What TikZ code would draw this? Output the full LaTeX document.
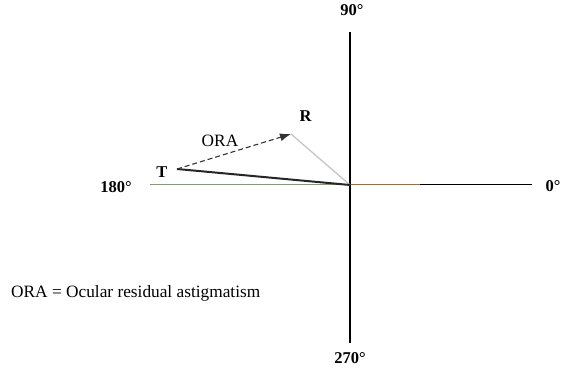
\documentclass[tikz,border=0pt]{standalone}
\usepackage{fontspec}
\setmainfont{Liberation Serif}
\usetikzlibrary{arrows.meta,positioning}

\begin{document}
\begin{tikzpicture}[
      x=1pt,y=-1pt,
      axisline/.style={line width=1pt,black},
      vecline/.style={line width=2pt,black!85},
      refline/.style={line width=1.3pt,gray!45},
      oraline/.style={-{Latex[length=11pt,width=8pt]},line width=1.1pt,black!80,dash pattern=on 5pt off 3pt},
      anglbl/.style={inner sep=0pt,anchor=base,font=\fontsize{16.5}{19}\selectfont\bfseries},
      txtlbl/.style={inner sep=0pt,anchor=base,font=\fontsize{17.3}{20}\selectfont},
      vlbl/.style={inner sep=0pt,anchor=base,font=\fontsize{16.5}{19}\selectfont\bfseries}
    ]
    \fill[white] (0,0) rectangle (562,371);
    \useasboundingbox (0,0) rectangle (562,371);
    % axes
    \coordinate (o) at (350,185);
    \coordinate (left) at (150,185);
    \coordinate (right) at (532,185);
    \coordinate (top) at (350,32);
    \coordinate (bottom) at (350,343);
    \draw[axisline,draw={rgb,255:red,140;green,150;blue,125}] (left) -- (o);
    \draw[axisline,draw={rgb,255:red,150;green,110;blue,70}] (o) -- (420,185);
    \draw[axisline] (420,185) -- (right);
    \draw[axisline,line width=1.2pt] (top) -- (bottom);
    \node[anglbl] (a90) at (352,16) {90°};
    \node[anglbl] (a270) at (350,363) {270°};
    \node[anglbl] (a0) at (553,192) {0°};
    \node[anglbl] (a180) at (116,193) {180°};
    % vectors
    \coordinate (t) at (177,169);
    \coordinate (r) at (291,134);
    \draw[refline] (o) -- (r);
    \draw[vecline] (t) -- (o);
    \draw[oraline] (t) -- (r);
    \node[vlbl] (tlbl) at (162,178) {T};
    \node[vlbl] (rlbl) at (305.5,122) {R};
    \node[txtlbl] (ora) at (220,147) {ORA};
    % legend
    \node[txtlbl,anchor=base west] (legend) at (11,298) {ORA = Ocular residual astigmatism};
  \end{tikzpicture}
\end{document}
